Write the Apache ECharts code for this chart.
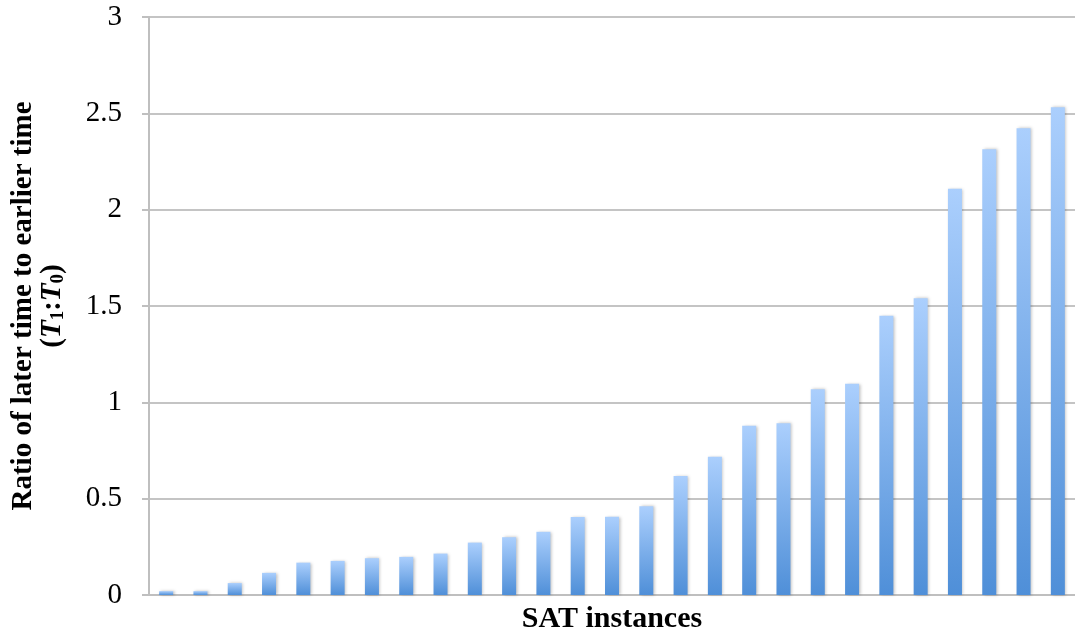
<!DOCTYPE html>
<html>
	<head>
		<meta charset="utf-8">
		<title>SAT instances</title>
		<script src="https://cdn.jsdelivr.net/npm/echarts@6/dist/echarts.min.js"></script>
	</head>
	<style type="text/css">
		html, body { margin: 0; padding: 0; background: #fff; }
		#main { width: 1075px; height: 639px; }
	</style>
	<body>
		<div id="main"></div>
		<script type="text/javascript">
			// 27 instances, sorted by ratio
			var instances = [];
			for (var i = 1; i <= 27; i++) instances.push('SAT ' + i);
			var ratios = [0.02, 0.02, 0.062, 0.115, 0.168, 0.177, 0.191, 0.198, 0.215, 0.272,
				0.30, 0.328, 0.405, 0.406, 0.46, 0.618, 0.718, 0.878, 0.892, 1.068,
				1.096, 1.45, 1.54, 2.108, 2.313, 2.422, 2.531];
			var yTicks = [0, 0.5, 1, 1.5, 2, 2.5, 3];

			var serif = '"Liberation Serif", "DejaVu Serif", serif';
			var myChart = echarts.init(document.getElementById('main'));
			myChart.setOption({
				animation: false,
				grid: { left: 149, right: 0, top: 17, bottom: 44, outerBoundsMode: 'none', containLabel: false },
				xAxis: {
					type: 'category',
					data: instances,
					name: 'SAT instances',
					nameLocation: 'middle',
					nameGap: 9,
					nameTextStyle: { fontFamily: serif, fontSize: 30, fontWeight: 'bold', color: '#000', verticalAlign: 'top' },
					axisLine: { lineStyle: { color: '#bfbfbf', width: 2 } },
					axisTick: { show: false },
					axisLabel: { show: false }
				},
				yAxis: {
					type: 'value',
					min: yTicks[0],
					max: yTicks[yTicks.length - 1],
					interval: 0.5,
					name: 'Ratio of later time to earlier time\n({it|T}{sub|1}:{it|T}{sub|0})',
					nameLocation: 'middle',
					nameGap: 82,
					nameTextStyle: {
						fontFamily: serif, fontSize: 29, fontWeight: 'bold', color: '#000', lineHeight: 29,
						rich: {
							it: { fontFamily: serif, fontSize: 29, fontStyle: 'italic', fontWeight: 'bold', color: '#000' },
							sub: { fontFamily: serif, fontSize: 19, fontWeight: 'bold', color: '#000', padding: [12, 0, 0, 0] }
						}
					},
					axisLine: { show: true, lineStyle: { color: '#bfbfbf', width: 2 } },
					axisTick: { show: true, inside: false, length: 7, lineStyle: { color: '#bfbfbf', width: 2 } },
					axisLabel: { fontFamily: serif, fontSize: 29, color: '#000', margin: 27 },
					splitLine: { lineStyle: { color: '#c4c4c4', width: 2 } }
				},
				series: [{
					name: 'ratio',
					type: 'bar',
					data: ratios,
					barWidth: 14,
					itemStyle: {
						color: new echarts.graphic.LinearGradient(0, 0, 0, 1, [
							{ offset: 0, color: '#abcffd' },
							{ offset: 1, color: '#4f8fd8' }
						]),
						shadowColor: 'rgba(0,0,0,0.25)',
						shadowBlur: 3,
						shadowOffsetX: 1.5
					}
				}]
			});
		</script>
	</body>
</html>
